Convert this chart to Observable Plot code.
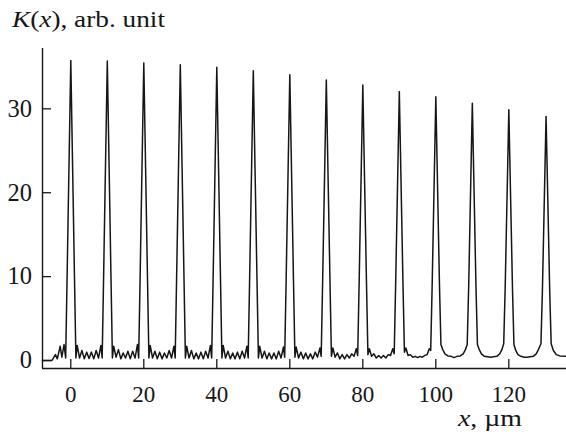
<!DOCTYPE html>
<html>
<head>
<meta charset="utf-8">
<script src="https://cdn.jsdelivr.net/npm/d3@7"></script>
<script src="https://cdn.jsdelivr.net/npm/@observablehq/plot@0.6"></script>
<style>
  html, body { margin: 0; padding: 0; background: #fff; }
  svg { display: block; }
</style>
</head>
<body>
<div id="chart"></div>
<script>
// Curve vertices: position x (µm) and K(x) (arb. unit)
const xUm = [
  -7.75, -5.2, -4.2, -3.7, -2.9, -2.45, -1.85, -1.4, -1.0, -0.5, 0,
  0.5, 1.0, 1.4, 1.75, 2.4, 3.05, 3.7, 4.35, 5.0, 5.65, 6.3, 6.95, 7.6, 8.25, 8.6, 9.0, 9.5, 10,
  10.5, 11.0, 11.4, 11.75, 12.4, 13.05, 13.7, 14.35, 15.0, 15.65, 16.3, 16.95, 17.6, 18.25, 18.6, 19.0, 19.5, 20,
  20.5, 21.0, 21.4, 21.75, 22.4, 23.05, 23.7, 24.35, 25.0, 25.65, 26.3, 26.95, 27.6, 28.25, 28.6, 29.0, 29.5, 30,
  30.5, 31.0, 31.4, 31.75, 32.4, 33.05, 33.7, 34.35, 35.0, 35.65, 36.3, 36.95, 37.6, 38.25, 38.6, 39.0, 39.5, 40,
  40.5, 41.0, 41.4, 41.75, 42.4, 43.05, 43.7, 44.35, 45.0, 45.65, 46.3, 46.95, 47.6, 48.25, 48.6, 49.0, 49.5, 50,
  50.5, 51.0, 51.4, 51.75, 52.4, 53.05, 53.7, 54.35, 55.0, 55.65, 56.3, 56.95, 57.6, 58.25, 58.6, 59.0, 59.5, 60,
  60.5, 61.0, 61.4, 61.75, 62.4, 63.05, 63.7, 64.35, 65.0, 65.65, 66.3, 66.95, 67.6, 68.25, 68.6, 69.0, 69.5, 70,
  70.5, 71.0, 71.4, 71.8, 72.4, 73.05, 73.7, 74.35, 75.0, 75.65, 76.3, 76.95, 77.6, 78.2, 78.6, 79.0, 79.5, 80,
  80.5, 81.0, 81.4, 81.8, 82.4, 83.05, 83.7, 84.35, 85.0, 85.65, 86.3, 86.95, 87.6, 88.2, 88.6, 89.0, 89.5, 90,
  90.5, 91.0, 91.4, 91.8, 92.4, 93.05, 93.7, 94.35, 95.0, 95.65, 96.3, 96.95, 97.6, 98.2, 98.6, 99.0, 99.5, 100,
  100.5, 101.0, 101.4, 101.9, 102.5, 103.3, 104.2, 105.0, 105.8, 106.7, 107.5, 108.1, 108.6, 109.0, 109.5, 110,
  110.5, 111.0, 111.4, 111.9, 112.5, 113.3, 114.2, 115.0, 115.8, 116.7, 117.5, 118.1, 118.6, 119.0, 119.5, 120,
  120.5, 121.0, 121.4, 121.9, 122.5, 123.3, 124.2, 125.0, 125.8, 126.7, 127.5, 128.1, 128.8, 129.2, 129.7, 130.2,
  130.7, 131.2, 131.6, 132.2, 133.0, 134.0, 135.5
];
const kArb = [
  0, 0, 0.7, 0.2, 1.7, 0.4, 1.9, 0.3, 10.2, 23.0, 35.75,
  23.0, 10.2, 0.3, 1.8, 0.3, 1.2, 0.2, 1.0, 0.25, 1.0, 0.2, 1.2, 0.3, 1.8, 0.3, 10.2, 23.0, 35.7,
  23.0, 10.2, 0.3, 1.7, 0.4, 1.3, 0.2, 0.9, 0.3, 1.1, 0.2, 1.1, 0.3, 1.9, 0.3, 10.1, 22.8, 35.45,
  22.8, 10.1, 0.3, 1.8, 0.3, 1.1, 0.2, 1.0, 0.2, 0.9, 0.3, 1.2, 0.3, 1.7, 0.3, 10.1, 22.7, 35.25,
  22.7, 10.1, 0.3, 1.7, 0.3, 1.2, 0.2, 0.9, 0.2, 1.0, 0.2, 1.1, 0.3, 1.8, 0.3, 10.0, 22.5, 34.95,
  22.5, 10.0, 0.3, 1.8, 0.3, 1.1, 0.2, 0.9, 0.2, 1.0, 0.2, 1.1, 0.3, 1.7, 0.3, 9.9, 22.2, 34.55,
  22.2, 9.9, 0.3, 1.7, 0.3, 1.1, 0.2, 0.9, 0.2, 0.9, 0.2, 1.1, 0.3, 1.6, 0.4, 9.7, 21.9, 34.05,
  21.9, 9.7, 0.4, 1.6, 0.3, 1.0, 0.2, 0.9, 0.2, 0.8, 0.2, 1.0, 0.4, 1.5, 0.5, 9.6, 21.5, 33.45,
  21.5, 9.6, 0.5, 1.5, 0.4, 0.9, 0.2, 0.7, 0.2, 0.7, 0.3, 0.8, 0.5, 1.4, 0.6, 9.4, 21.1, 32.85,
  21.1, 9.4, 0.7, 1.4, 0.5, 0.8, 0.3, 0.6, 0.3, 0.6, 0.3, 0.7, 0.6, 1.4, 0.8, 9.2, 20.6, 32.05,
  20.6, 9.2, 1.0, 1.5, 0.6, 0.7, 0.4, 0.5, 0.35, 0.5, 0.4, 0.6, 0.7, 1.4, 1.2, 9.0, 20.2, 31.45,
  20.2, 9.0, 1.9, 1.3, 0.8, 0.55, 0.5, 0.35, 0.5, 0.55, 0.8, 1.3, 1.9, 8.8, 19.7, 30.65,
  19.7, 8.8, 1.9, 1.3, 0.8, 0.5, 0.45, 0.4, 0.45, 0.5, 0.8, 1.3, 2.0, 8.6, 19.2, 29.9,
  19.2, 8.6, 1.9, 1.2, 0.7, 0.5, 0.4, 0.4, 0.45, 0.5, 0.8, 1.3, 2.0, 8.3, 18.7, 29.1,
  18.7, 8.3, 2.0, 1.2, 0.7, 0.55, 0.5
];
const xTicks = [0, 20, 40, 60, 80, 100, 120];
const yTicks = [0, 10, 20, 30];
const xRange = [-7.75, 135.8];
const yRange = [-0.95, 37.19];
// Axis titles: [text, italic?]
const yTitle = [["K", true], ["(", false], ["x", true], ["), arb. unit", false]];
const xTitle = [["x", true], [", µm", false]];

const curve = xUm.map((x, i) => ({x, k: kArb[i]}));
const ink = "#161616";
const serif = "'Liberation Serif', 'Times New Roman', serif";

const plot = Plot.plot({
  width: 566,
  height: 432,
  marginLeft: 42,
  marginRight: 0,
  marginTop: 48,
  marginBottom: 64,
  style: {fontFamily: serif, fontSize: "23px", background: "#fff", color: ink},
  x: {domain: xRange, label: null, axis: null},
  y: {domain: yRange, label: null, axis: null},
  marks: [
    Plot.ruleX([xRange[0]], {stroke: ink, strokeWidth: 1.4}),
    Plot.ruleY([yRange[0]], {stroke: ink, strokeWidth: 1.4}),
    Plot.axisX(xTicks, {anchor: "bottom", tickSize: -9, tickPadding: 25.7, strokeWidth: 1.3, fontSize: 23, label: null}),
    Plot.axisY(yTicks, {anchor: "left", tickSize: -9, tickPadding: 19.5, strokeWidth: 1.3, fontSize: 24.5, label: null}),
    Plot.line(curve, {x: "x", y: "k", stroke: ink, strokeWidth: 1.5, strokeLinejoin: "round"})
  ]
});

const svg = d3.select(plot);
function addTitle(parts, x, y, len) {
  const t = svg.append("text")
    .attr("x", x).attr("y", y)
    .attr("text-anchor", "start")
    .attr("font-family", serif).attr("font-size", 23).attr("fill", ink)
    .attr("textLength", len).attr("lengthAdjust", "spacingAndGlyphs");
  parts.forEach(([s, it]) => {
    t.append("tspan").attr("font-style", it ? "italic" : "normal").text(s);
  });
}
addTitle(yTitle, 12, 27, 153);
addTitle(xTitle, 458, 426, 64);

document.getElementById("chart").appendChild(plot);
</script>
</body>
</html>
